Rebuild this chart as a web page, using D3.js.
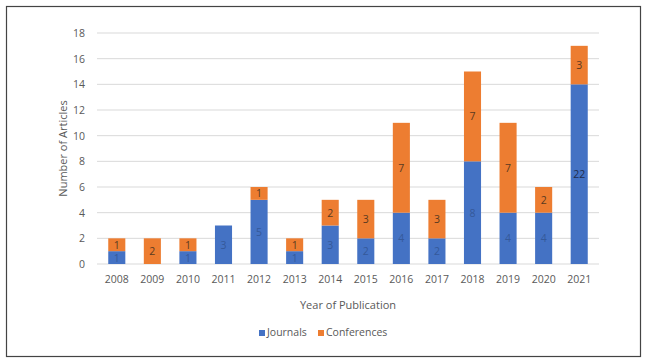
<!DOCTYPE html>
<html>
<head>
<meta charset="utf-8">
<script src="https://cdn.jsdelivr.net/npm/d3@7"></script>
<style>
  body { margin: 0; background: #fff; }
  text { font-family: "Open Sans", "Liberation Sans", sans-serif; }
</style>
</head>
<body>
<div id="container"></div>
<script>
/* DATA */
const years = ["2008", "2009", "2010", "2011", "2012", "2013", "2014", "2015", "2016", "2017", "2018", "2019", "2020", "2021"];
const journals = [1, 0, 1, 3, 5, 1, 3, 2, 4, 2, 8, 4, 4, 14];
const conferences = [1, 2, 1, 0, 1, 1, 2, 3, 7, 3, 7, 7, 2, 3];
// labels as printed inside the bars
const journalLabels = ["1", "", "1", "3", "5", "1", "3", "2", "4", "2", "8", "4", "4", "22"];
const conferenceLabels = ["1", "2", "1", "", "1", "1", "2", "3", "7", "3", "7", "7", "2", "3"];
const yTicks = [0, 2, 4, 6, 8, 10, 12, 14, 16, 18];

/* CONSTANTS */
const width = 646, height = 363,
  margin = { top: 33, bottom: 99, left: 99, right: 49 },
  colors = { journals: "#4472C4", conferences: "#ED7D31" };

const table = years.map((y, i) => ({
  year: y, journals: journals[i], conferences: conferences[i],
  jl: journalLabels[i], cl: conferenceLabels[i]
}));

const svg = d3.select("#container").append("svg")
  .attr("width", width).attr("height", height);

// outer frame
svg.append("rect")
  .attr("x", 6.5).attr("y", 6.5).attr("width", 634).attr("height", 350)
  .attr("fill", "none").attr("stroke", "#444").attr("stroke-width", 1.2);

/* SCALES */
const xScale = d3.scaleBand()
  .domain(years)
  .range([margin.left, width - margin.right])
  .paddingInner(0.52).paddingOuter(0.26);

const yScale = d3.scaleLinear()
  .domain([0, 18])
  .range([height - margin.bottom, margin.top]);

// gridlines
svg.append("g")
  .selectAll("line")
  .data(yTicks)
  .join("line")
  .attr("x1", margin.left - 2).attr("x2", width - margin.right + 2)
  .attr("y1", d => yScale(d)).attr("y2", d => yScale(d))
  .attr("stroke", "#d9d9d9").attr("stroke-width", 1);

// y axis
const yAxis = d3.axisLeft(yScale).tickValues(yTicks).tickSize(0).tickPadding(14);
svg.append("g")
  .attr("transform", `translate(${margin.left},0)`)
  .call(yAxis)
  .call(g => g.select(".domain").remove())
  .selectAll("text").attr("fill", "#595959").attr("font-size", "10.5px");

// x axis
const xAxis = d3.axisBottom(xScale).tickSize(0).tickPadding(12);
svg.append("g")
  .attr("transform", `translate(0,${yScale(0)})`)
  .call(xAxis)
  .call(g => g.select(".domain").remove())
  .selectAll("text").attr("fill", "#595959").attr("font-size", "10.5px");

/* BARS */
const stack = d3.stack().keys(["journals", "conferences"])(table);

svg.append("g")
  .selectAll("g")
  .data(stack)
  .join("g")
  .attr("fill", d => colors[d.key])
  .selectAll("rect")
  .data(d => d)
  .join("rect")
  .attr("x", d => xScale(d.data.year))
  .attr("width", xScale.bandwidth())
  .attr("y", d => yScale(d[1]))
  .attr("height", d => yScale(d[0]) - yScale(d[1]));

// segment labels
svg.append("g")
  .selectAll("text")
  .data(table.filter(d => d.jl !== ""))
  .join("text")
  .attr("x", d => xScale(d.year) + xScale.bandwidth() / 2)
  .attr("y", d => yScale(d.journals / 2) + 4)
  .attr("text-anchor", "middle")
  .attr("font-size", "10.5px")
  .attr("fill", d => d.year === "2021" ? "#1f2d4d" : "#35599a")
  .text(d => d.jl);

svg.append("g")
  .selectAll("text")
  .data(table.filter(d => d.cl !== ""))
  .join("text")
  .attr("x", d => xScale(d.year) + xScale.bandwidth() / 2)
  .attr("y", d => yScale(d.journals + d.conferences / 2) + 4)
  .attr("text-anchor", "middle")
  .attr("font-size", "10.5px")
  .attr("fill", "#5a3a20")
  .text(d => d.cl);

/* AXIS TITLES */
svg.append("text")
  .attr("x", (margin.left + width - margin.right) / 2)
  .attr("y", 309)
  .attr("text-anchor", "middle")
  .attr("font-size", "11px")
  .attr("fill", "#595959")
  .text("Year of Publication");

svg.append("text")
  .attr("transform", `translate(67,${(yScale(0) + yScale(18)) / 2}) rotate(-90)`)
  .attr("text-anchor", "middle")
  .attr("font-size", "11px")
  .attr("fill", "#595959")
  .text("Number of Articles");

/* LEGEND */
const legendItems = [
  { key: "journals", label: "Journals", x: 259 },
  { key: "conferences", label: "Conferences", x: 318 }
];
const legend = svg.append("g")
  .selectAll("g")
  .data(legendItems)
  .join("g")
  .attr("transform", d => `translate(${d.x},334)`);
legend.append("rect")
  .attr("x", 0).attr("y", -4).attr("width", 6).attr("height", 6)
  .attr("fill", d => colors[d.key]);
legend.append("text")
  .attr("x", 8).attr("y", 2)
  .attr("font-size", "10.5px")
  .attr("fill", "#595959")
  .text(d => d.label);
</script>
</body>
</html>
